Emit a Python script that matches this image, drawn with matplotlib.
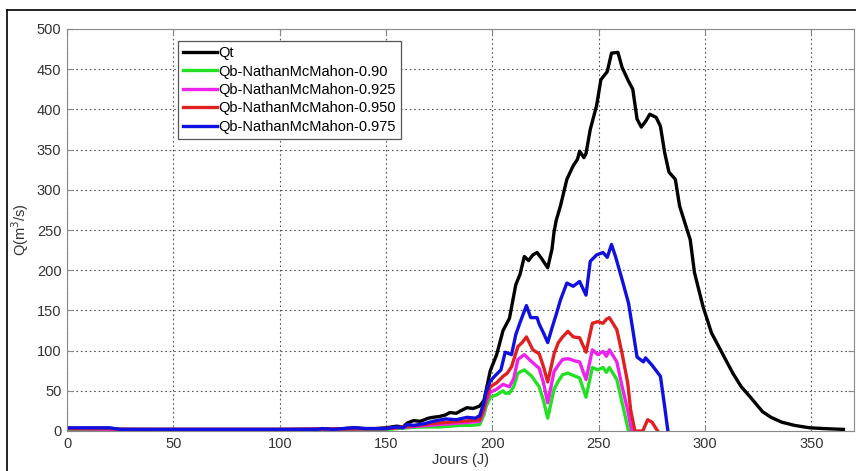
import matplotlib
matplotlib.use("Agg")
import matplotlib.pyplot as plt
from matplotlib.lines import Line2D

plt.rcParams['font.family'] = ['Liberation Sans', 'DejaVu Sans']

# ---Data---

days_qt = [0, 10, 20, 25, 50, 80, 100, 115, 120, 125, 130, 135, 140, 145, 150, 155, 158, 160,
           163, 166, 170, 172, 175, 178, 180, 183, 185, 188, 191, 194, 196, 197, 199, 202, 205,
           208, 211, 213, 215, 217, 219, 221, 223, 225, 226, 228, 229, 230, 232, 235, 238, 240,
           241, 243, 244, 246, 249, 251, 254, 256, 259, 261, 264, 266, 268, 270, 272, 274, 277,
           279, 281, 283, 286, 288, 290, 293, 295, 299, 303, 308, 313, 317, 321, 327, 331, 336,
           342, 349, 356, 365]
qt = [3, 3, 3, 2, 1.5, 1.5, 1.5, 2, 3, 2, 3, 4, 3, 3, 4, 6, 5, 10,
      13, 12, 16, 17, 18, 20, 23, 22, 25, 29, 28, 31, 38, 50, 75, 95, 125,
      140, 182, 195, 217, 212, 219, 222, 215, 207, 203, 226, 248, 262, 280, 313, 330, 338,
      348, 340, 345, 375, 405, 437, 447, 470, 471, 452, 435, 425, 388, 378, 385, 394, 390,
      379, 346, 322, 313, 280, 263, 238, 197, 155, 122, 97, 72, 55, 43, 24, 17, 11,
      7, 4, 3, 2]

days_975 = [0, 20, 25, 50, 100, 118, 120, 125, 130, 135, 140, 150, 155, 158, 160, 163, 168, 172,
            178, 183, 188, 192, 194, 196, 197, 199, 201, 204, 206, 209, 211, 213, 216, 218, 221,
            222, 224, 226, 228, 230, 232, 235, 238, 241, 244, 246, 249, 252, 254, 256, 258, 261,
            264, 266, 268, 271, 272, 275, 277, 279, 281, 282.5]
qb_975 = [4, 4, 2, 2, 2, 2, 3, 2, 3, 4, 3, 3, 5, 4, 8, 7, 9, 12,
          15, 14, 17, 16, 19, 35, 48, 62, 68, 76, 98, 95, 120, 135, 156, 141, 141,
          133, 122, 110, 128, 145, 163, 184, 180, 186, 169, 211, 219, 222, 216, 232, 216, 188,
          159, 126, 92, 86, 91, 82, 75, 68, 30, 0]

days_950 = [0, 20, 25, 100, 150, 155, 160, 165, 170, 175, 180, 185, 190, 194, 196, 197, 199, 202,
            205, 207, 209, 212, 214, 216, 219, 222, 224, 226, 229, 231, 233, 235.5, 238, 241, 244,
            247, 249.5, 252, 253.6, 255, 258.5, 261, 263.6, 265, 267, 270.7, 272, 273, 275, 277.7]
qb_950 = [3, 3, 2, 2, 3, 4, 6, 7, 9, 10, 11, 12, 13, 14, 28, 40, 55, 60,
          68, 72, 80, 105, 110, 117, 101, 96, 80, 61, 96, 110, 117, 124, 117, 116, 98,
          134, 136, 134, 139, 141, 126, 96, 60, 26, 0, 0, 8, 14, 11, 0]

days_925 = [0, 25, 100, 150, 155, 160, 165, 170, 175, 180, 185, 190, 194, 196, 197, 199, 202, 205,
            208, 210, 212, 215, 218.5, 222, 224, 226, 229, 231, 233, 235.5, 239, 241, 244, 247,
            249.5, 252, 253.6, 255, 258.5, 261, 263.6, 265.5]
qb_925 = [3, 2, 2, 3, 4, 5, 6, 7, 8, 9, 10, 11, 12, 25, 36, 48, 52, 58,
          55, 65, 89, 95, 86, 78, 60, 35, 74, 82, 89, 90, 87, 86, 64, 101,
          95, 99, 93, 101, 86, 55, 26, 0]

days_90 = [0, 25, 100, 150, 155, 160, 165, 170, 175, 180, 185, 190, 194, 196, 197, 199, 202, 205,
           206, 208, 210, 212, 215, 218.5, 222, 224, 226, 229, 231, 233, 235.5, 239, 241, 244,
           247, 249.5, 252, 253.6, 255, 258.5, 261, 264]
qb_90 = [2, 2, 2, 2, 3, 4, 5, 5, 5, 6, 7, 7, 8, 20, 30, 42, 45, 50,
         47, 47, 55, 72, 76, 68, 55, 38, 16, 52, 62, 70, 72, 68, 66, 42,
         79, 76, 79, 73, 79, 64, 35, 0]

labels = ['Qt', 'Qb-NathanMcMahon-0.90', 'Qb-NathanMcMahon-0.925',
          'Qb-NathanMcMahon-0.950', 'Qb-NathanMcMahon-0.975']
colors = ['black', '#22e022', '#ee22ee', '#e02020', '#1010e0']

# ---Figure---

fig = plt.figure(figsize=(8.56, 4.71), dpi=100)
ax = fig.add_axes([67/856, 1 - 431/471, (854 - 67)/856, (431 - 29)/471])

series = [(days_qt, qt), (days_90, qb_90), (days_925, qb_925),
          (days_950, qb_950), (days_975, qb_975)]
for (d, q), c, lab in zip(series, colors, labels):
    ax.plot(d, q, color=c, lw=2.4, label=lab, solid_joinstyle='round')

ax.set_xlim(0, 370)
ax.set_ylim(0, 500)
ax.set_xticks(range(0, 351, 50))
ax.set_yticks(range(0, 501, 50))
ax.tick_params(direction='in', top=True, right=True, length=4, labelsize=10.5,
               colors='#888888', labelcolor='#333333', pad=4)
for s in ax.spines.values():
    s.set_color('#888888')
ax.grid(True, linestyle=(0, (1.5, 2.5)), color='#555555', linewidth=0.8)

ax.set_xlabel('Jours (J)', fontsize=10.5, color='#333333', labelpad=2)
ax.set_ylabel('Q(m$^3$/s)', fontsize=10.5, color='#333333', labelpad=4)

leg = ax.legend(loc='upper left', bbox_to_anchor=(0.141, 0.97), borderaxespad=0,
                fontsize=10.5, handlelength=2.3, handletextpad=0.1, labelspacing=0.3,
                borderpad=0.35, fancybox=False, framealpha=1)
leg.get_frame().set_edgecolor('#555555')
leg.get_frame().set_linewidth(0.9)

# outer frame lines
fig.add_artist(Line2D([7/856, 7/856], [0, 1 - 10/471], color='black', lw=1.2))
fig.add_artist(Line2D([7/856, 1], [1 - 10/471, 1 - 10/471], color='black', lw=1.2))

fig.savefig('out.png', dpi=100)
